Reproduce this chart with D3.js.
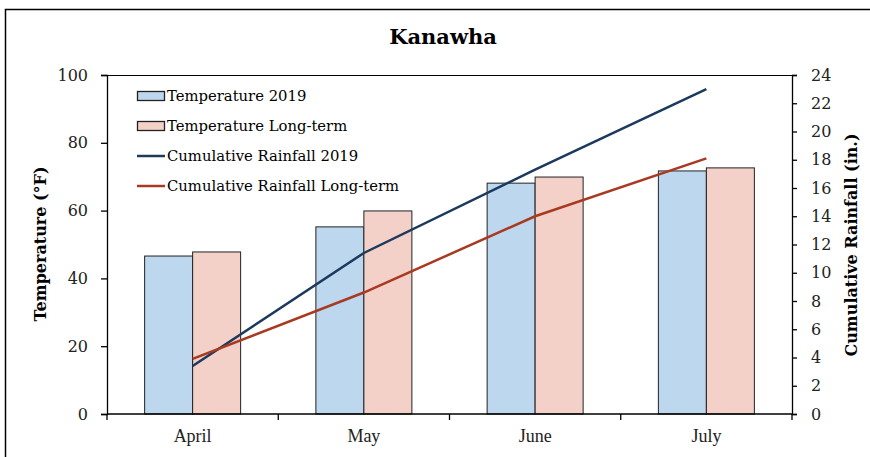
<!DOCTYPE html>
<html>
<head>
<meta charset="utf-8">
<script src="https://cdn.jsdelivr.net/npm/d3@7"></script>
<style>
  body { margin: 0; background: #fff; overflow: hidden; }
  svg { display: block; }
  text { font-family: "DejaVu Serif", "Liberation Serif", serif; fill: #000; }
</style>
</head>
<body>
<svg></svg>
<script>
const months = ["April", "May", "June", "July"];
const temp2019 = [46.6, 55.2, 68.1, 71.7];
const tempLong = [47.8, 59.9, 69.9, 72.6];
const rain2019 = [3.4, 11.4, 17.3, 23.0];
const rainLong = [3.9, 8.6, 14.0, 18.1];
const leftTicks = [0, 20, 40, 60, 80, 100];
const rightTicks = d3.range(0, 25, 2);

const full_width = 870;
const full_height = 457;
const margin = { top: 75, right: 78, bottom: 43, left: 107 };
const innerWidth = full_width - margin.left - margin.right;
const innerHeight = full_height - margin.top - margin.bottom;

const svg = d3.select("svg").attr("width", full_width).attr("height", full_height);

// outer frame (only top and left edges are in view)
svg.append("path")
  .attr("d", `M5.5,${full_height}V9.5H${full_width}`)
  .attr("fill", "none").attr("stroke", "#000").attr("stroke-width", 1.5);

svg.append("text")
  .attr("x", 443).attr("y", 44)
  .attr("text-anchor", "middle")
  .style("font-size", "21px").attr("font-weight", "bold")
  .text("Kanawha");

const chart = svg.append("g").attr("transform", `translate(${margin.left},${margin.top})`);

const xScale = d3.scaleBand().domain(months).range([0, innerWidth]);
const yLeft = d3.scaleLinear().domain([0, 100]).range([innerHeight, 0]);
const yRight = d3.scaleLinear().domain([0, 24]).range([innerHeight, 0]);

const barW = 48;
const groups = chart.selectAll(".grp").data(months).enter().append("g")
  .attr("transform", (d) => `translate(${xScale(d) + xScale.bandwidth() / 2},0)`);

groups.append("rect")
  .attr("x", -barW).attr("width", barW)
  .attr("y", (_, i) => yLeft(temp2019[i]))
  .attr("height", (_, i) => innerHeight - yLeft(temp2019[i]))
  .attr("fill", "#BDD7EE").attr("stroke", "#222").attr("stroke-width", 1);

groups.append("rect")
  .attr("x", 0).attr("width", barW)
  .attr("y", (_, i) => yLeft(tempLong[i]))
  .attr("height", (_, i) => innerHeight - yLeft(tempLong[i]))
  .attr("fill", "#F4D1C8").attr("stroke", "#222").attr("stroke-width", 1);

const xc = (d) => xScale(d) + xScale.bandwidth() / 2;
const line = (vals) => d3.line().x((d) => xc(d)).y((d, i) => yRight(vals[i]))(months);

chart.append("path").attr("d", line(rain2019))
  .attr("fill", "none").attr("stroke", "#1C3A5E").attr("stroke-width", 2.5);
chart.append("path").attr("d", line(rainLong))
  .attr("fill", "none").attr("stroke", "#A93A22").attr("stroke-width", 2.5);

// top border of plot
chart.append("line").attr("x1", 0).attr("x2", innerWidth).attr("y1", 0.5).attr("y2", 0.5)
  .attr("stroke", "#000");

const leftAxis = chart.append("g")
  .call(d3.axisLeft(yLeft).tickValues(leftTicks).tickSize(6).tickPadding(13));
const rightAxis = chart.append("g")
  .attr("transform", `translate(${innerWidth},0)`)
  .call(d3.axisRight(yRight).tickValues(rightTicks).tickSize(5).tickPadding(14));
const xAxis = chart.append("g")
  .attr("transform", `translate(0,${innerHeight})`)
  .call(d3.axisBottom(xScale).tickSize(0).tickPadding(15));
xAxis.select(".domain").attr("d", `M0,0H${innerWidth}`);
xAxis.selectAll(".bound").data(d3.range(months.length + 1)).enter().append("line")
  .attr("x1", (i) => i * xScale.bandwidth()).attr("x2", (i) => i * xScale.bandwidth())
  .attr("y1", 0).attr("y2", 6).attr("stroke", "#000");

[leftAxis, rightAxis, xAxis].forEach((a) => {
  a.attr("font-family", null).attr("font-size", null);
  a.selectAll(".domain, line").attr("stroke", "#000").attr("stroke-width", 1.3);
  a.selectAll("text").style("font-family", "'DejaVu Serif'").style("fill", "#222")
    .style("font-size", "16px");
});
xAxis.selectAll("text").style("font-family", "'Liberation Serif'").style("font-size", "18px");

svg.append("text")
  .attr("transform", `translate(46,244) rotate(-90)`)
  .attr("text-anchor", "middle").style("font-size", "16px").attr("font-weight", "bold")
  .text("Temperature (°F)");
svg.append("text")
  .attr("transform", `translate(857,245) rotate(-90)`)
  .attr("text-anchor", "middle").style("font-size", "16px").attr("font-weight", "bold")
  .text("Cumulative Rainfall (in.)");

// legend
const legendItems = [
  { label: "Temperature 2019", type: "rect", color: "#BDD7EE" },
  { label: "Temperature Long-term", type: "rect", color: "#F4D1C8" },
  { label: "Cumulative Rainfall 2019", type: "line", color: "#1C3A5E" },
  { label: "Cumulative Rainfall Long-term", type: "line", color: "#A93A22" },
];
const legend = svg.append("g").attr("transform", "translate(137,96)");
const li = legend.selectAll("g").data(legendItems).enter().append("g")
  .attr("transform", (_, i) => `translate(0,${i * 30})`);
li.filter((d) => d.type === "rect").append("rect")
  .attr("x", 0.5).attr("y", -4.5).attr("width", 27).attr("height", 9)
  .attr("fill", (d) => d.color).attr("stroke", "#222").attr("stroke-width", 1.3);
li.filter((d) => d.type === "line").append("line")
  .attr("x1", 0).attr("x2", 28).attr("y1", 0).attr("y2", 0)
  .attr("stroke", (d) => d.color).attr("stroke-width", 2.5);
li.append("text").attr("x", 30).attr("y", 5)
  .style("font-size", "14.8px")
  .text((d) => d.label);
</script>
</body>
</html>
